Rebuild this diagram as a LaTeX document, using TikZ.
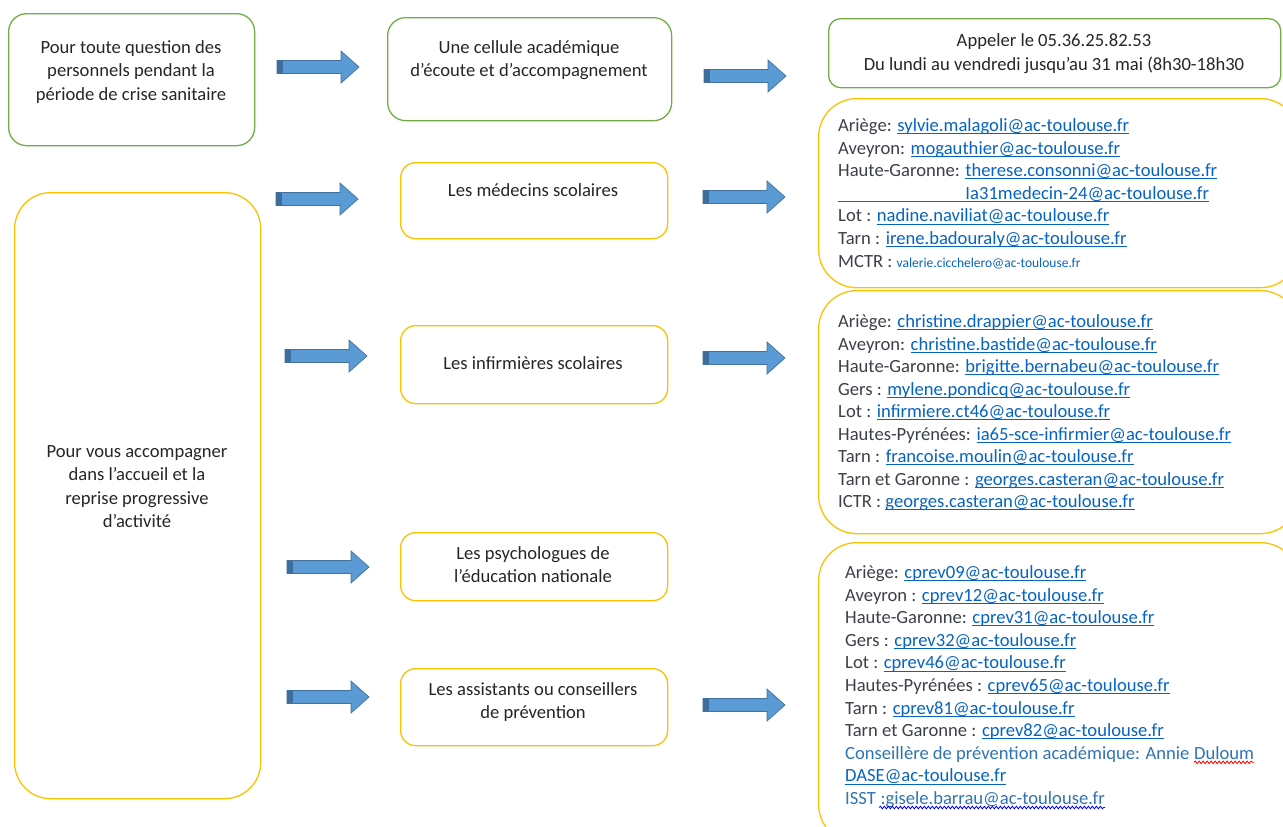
\documentclass[tikz,border=0pt]{standalone}
\usepackage{fontspec}
\setmainfont{Carlito}
\usetikzlibrary{decorations.pathmorphing}
\definecolor{gbord}{HTML}{70AD47}
\definecolor{ybord}{HTML}{FFC000}
\definecolor{afill}{HTML}{5B9BD5}
\definecolor{aedge}{HTML}{41719C}
\definecolor{atail}{HTML}{3D6D9C}
\definecolor{txt}{HTML}{262626}
\definecolor{lbl}{HTML}{3B3F48}
\definecolor{lnk}{HTML}{0563C1}
\definecolor{lblue}{HTML}{2E74B5}
\newsavebox\lnkbox
\newcommand\lnk[1]{\sbox\lnkbox{\color{lnk}#1}{\color{lnk}\rlap{\rule[-2.6pt]{\wd\lnkbox}{0.9pt}}\usebox\lnkbox}}
\tikzset{
  gbox/.style={draw=gbord, line width=1.3pt, rounded corners=18pt, anchor=north west, inner sep=0pt},
  ybox/.style={draw=ybord, line width=1.3pt, rounded corners=15pt, anchor=north west, inner sep=0pt},
  bigbox/.style={ybox, rounded corners=36pt},
  btxt/.style={align=center, text=txt, inner sep=0pt, font=\fontsize{18.6}{23.5}\selectfont},
  rline/.style={anchor=base west, inner sep=0pt, text=lbl, font=\fontsize{18.6}{22.6}\selectfont},
  wavy/.style={decorate, decoration={snake, amplitude=1.3pt, segment length=4pt}, line width=0.8pt},
  barrow/.pic={
    \filldraw[fill=afill, draw=aedge, line width=0.7pt] (0,-6.5) -- (64,-6.5) -- (64,-16) -- (82,0) -- (64,16) -- (64,6.5) -- (0,6.5) -- cycle;
    \fill[atail] (0.35,-6.15) rectangle (6,6.15);
  }
}
\begin{document}
\begin{tikzpicture}[x=1pt, y=-1pt]
\useasboundingbox (0,0) rectangle (1283,827);
% boxes
\node[gbox, minimum width=246pt, minimum height=132pt] (b1) at (8,13) {};
\node[gbox, minimum width=284pt, minimum height=103pt] (b2) at (387,17) {};
\node[gbox, rounded corners=12pt, minimum width=452pt, minimum height=69pt] (b3) at (828,18) {};
\node[bigbox, minimum width=246pt, minimum height=606pt] (big) at (14,192) {};
\node[ybox, minimum width=267pt, minimum height=76pt] (med) at (400,162) {};
\node[ybox, minimum width=267pt, minimum height=78pt] (inf) at (400,325) {};
\node[ybox, minimum width=267pt, minimum height=68pt] (psy) at (400,532) {};
\node[ybox, minimum width=267pt, minimum height=77pt] (ass) at (400,668) {};
\node[bigbox, rounded corners=38pt, minimum width=480pt, minimum height=189pt] (r1) at (818,98) {};
\node[bigbox, rounded corners=38pt, minimum width=480pt, minimum height=243pt] (r2) at (818,290) {};
\node[bigbox, rounded corners=38pt, minimum width=480pt, minimum height=300pt] (r3) at (818,542) {};
% box texts
\node[btxt] (t1) at (131,72) {Pour toute question des\\personnels pendant la\\période de crise sanitaire};
\node[btxt] (t2) at (529,60) {Une cellule académique\\d’écoute et d’accompagnement};
\node[btxt] (t3) at (1054,53.5) {Appeler le 05.36.25.82.53\\Du lundi au vendredi jusqu’au 31 mai (8h30-18h30};
\node[btxt] (t4) at (533,190) {Les médecins scolaires};
\node[btxt] (t5) at (533,363) {Les infirmières scolaires};
\node[btxt] (t6) at (533,564.5) {Les psychologues de\\l’éducation nationale};
\node[btxt] (t7) at (533,702) {Les assistants ou conseillers\\de prévention};
\node[btxt] (t8) at (137,486.5) {Pour vous accompagner\\dans l’accueil et la\\reprise progressive\\d’activité};
% arrows
\pic at (277,67) {barrow};
\pic at (704,76) {barrow};
\pic at (276,199) {barrow};
\pic at (703,197) {barrow};
\pic at (285,356) {barrow};
\pic at (703,358) {barrow};
\pic at (287,567) {barrow};
\pic at (287,697) {barrow};
\pic at (703,705) {barrow};
% right box 1
\foreach [count=\i] \t in {
  {Ariège: \lnk{sylvie.malagoli@ac-toulouse.fr}},
  {Aveyron: \lnk{mogauthier@ac-toulouse.fr}},
  {Haute-Garonne: \lnk{therese.consonni@ac-toulouse.fr}},
  {\lnk{\hphantom{Haute-Garonne: }Ia31medecin-24@ac-toulouse.fr}},
  {Lot : \lnk{nadine.naviliat@ac-toulouse.fr}},
  {Tarn : \lnk{irene.badouraly@ac-toulouse.fr}},
  {MCTR : \textcolor{lnk}{\fontsize{13.5}{16}\selectfont valerie.cicchelero@ac-toulouse.fr}}}
  \node[rline] (ra\i) at (838,{131.5+(\i-1)*22.6}) {\t};
% right box 2
\foreach [count=\i] \t in {
  {Ariège: \lnk{christine.drappier@ac-toulouse.fr}},
  {Aveyron: \lnk{christine.bastide@ac-toulouse.fr}},
  {Haute-Garonne: \lnk{brigitte.bernabeu@ac-toulouse.fr}},
  {Gers : \lnk{mylene.pondicq@ac-toulouse.fr}},
  {Lot : \lnk{infirmiere.ct46@ac-toulouse.fr}},
  {Hautes-Pyrénées: \lnk{ia65-sce-infirmier@ac-toulouse.fr}},
  {Tarn : \lnk{francoise.moulin@ac-toulouse.fr}},
  {Tarn et Garonne : \lnk{georges.casteran@ac-toulouse.fr}},
  {ICTR : \lnk{georges.casteran@ac-toulouse.fr}}}
  \node[rline] (rb\i) at (838,{327.5+(\i-1)*22.5}) {\t};
% right box 3
\foreach [count=\i] \t in {
  {Ariège: \lnk{cprev09@ac-toulouse.fr}},
  {Aveyron : \lnk{cprev12@ac-toulouse.fr}},
  {Haute-Garonne: \lnk{cprev31@ac-toulouse.fr}},
  {Gers : \lnk{cprev32@ac-toulouse.fr}},
  {Lot : \lnk{cprev46@ac-toulouse.fr}},
  {Hautes-Pyrénées : \lnk{cprev65@ac-toulouse.fr}},
  {Tarn : \lnk{cprev81@ac-toulouse.fr}},
  {Tarn et Garonne : \lnk{cprev82@ac-toulouse.fr}},
  {\textcolor{lblue}{Conseillère de prévention académique: Annie\space}},
  {\lnk{DASE@ac-toulouse.fr}},
  {\textcolor{lblue}{ISST}}}
  \node[rline] (rc\i) at (845,{578.5+(\i-1)*22.6}) {\t};
\node[rline, text=lblue] (dul) at (rc9.base east) {Duloum};
\node[rline, text=lblue] (isst) at (rc11.base east) {\hspace*{4.2pt}:gisele.barrau@ac-toulouse.fr};
\draw[wavy, red] ([yshift=-3pt]dul.base west) -- ([yshift=-3pt]dul.base east);
\draw[wavy, blue!80!black] ([yshift=-3pt, xshift=3pt]isst.base west) -- ([yshift=-3pt]isst.base east);
\end{tikzpicture}
\end{document}
